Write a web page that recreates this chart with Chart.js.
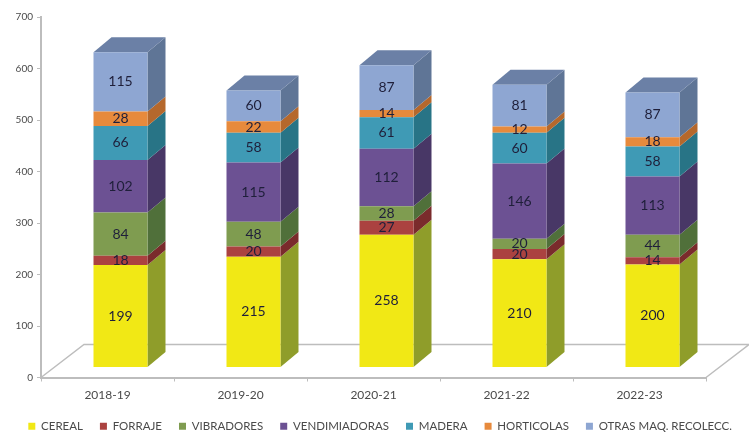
<!DOCTYPE html>
<html>
<head>
<meta charset="utf-8">
<title>Maquinaria</title>
<script src="https://cdn.jsdelivr.net/npm/chart.js@4"></script>
<style>
  html, body { margin: 0; padding: 0; background: #fff; }
  #chart { display: block; filter: blur(0.5px); }
</style>
</head>
<body>
<canvas id="chart" width="749" height="432"></canvas>
<script>
const categories = ['2018-19', '2019-20', '2020-21', '2021-22', '2022-23'];
const cereal = [199, 215, 258, 210, 200];
const forraje = [18, 20, 27, 20, 14];
const vibradores = [84, 48, 28, 20, 44];
const vendimiadoras = [102, 115, 112, 146, 113];
const madera = [66, 58, 61, 60, 58];
const horticolas = [28, 22, 14, 12, 18];
const otras = [115, 60, 87, 81, 87];
const yTicks = [0, 100, 200, 300, 400, 500, 600, 700];

const axisGray = '#bdbdbd';
const textGray = '#4a4a4a';

// front face is pushed into the floor, the side goes further back
const frontShift = { x: 13, y: -10 };
const depth = { x: 18, y: -15 };
const floorDepth = { x: 43, y: -33 };

const series = [
  { label: 'CEREAL', data: cereal, color: '#f1e815', side: '#8f9d2a' },
  { label: 'FORRAJE', data: forraje, color: '#ab4240', side: '#7a2b2c' },
  { label: 'VIBRADORES', data: vibradores, color: '#7f9c50', side: '#50703a' },
  { label: 'VENDIMIADORAS', data: vendimiadoras, color: '#6c5193', side: '#483766' },
  { label: 'MADERA', data: madera, color: '#3f9ab5', side: '#287486' },
  { label: 'HORTICOLAS', data: horticolas, color: '#e78a3c', side: '#b5682c' },
  { label: 'OTRAS MAQ. RECOLECC.', data: otras, color: '#8ea6d2', side: '#5f7596', top: '#6b80a6' }
];

function fillPoly(ctx, pts, color) {
  ctx.fillStyle = color;
  ctx.beginPath();
  pts.forEach((p, i) => i ? ctx.lineTo(p[0], p[1]) : ctx.moveTo(p[0], p[1]));
  ctx.closePath();
  ctx.fill();
}

const bars3d = {
  id: 'bars3d',
  beforeDatasetsDraw(chart) {
    const ctx = chart.ctx;
    const xs = chart.scales.x;
    const y0 = chart.scales.y.getPixelForValue(0);
    // floor outline
    ctx.save();
    ctx.strokeStyle = axisGray;
    ctx.lineWidth = 1.5;
    ctx.beginPath();
    ctx.moveTo(xs.left, y0);
    ctx.lineTo(xs.left + floorDepth.x, y0 + floorDepth.y);
    ctx.lineTo(xs.right + floorDepth.x, y0 + floorDepth.y);
    ctx.lineTo(xs.right, y0);
    ctx.stroke();
    ctx.restore();

    ctx.save();
    ctx.translate(frontShift.x, frontShift.y);
    series.forEach((s, i) => {
      chart.getDatasetMeta(i).data.forEach(bar => {
        const p = bar.getProps(['x', 'y', 'base', 'width'], true);
        const r = p.x + p.width / 2;
        const l = p.x - p.width / 2;
        fillPoly(ctx, [[r, p.y], [r + depth.x, p.y + depth.y], [r + depth.x, p.base + depth.y], [r, p.base]], s.side);
        if (s.top) {
          fillPoly(ctx, [[l, p.y], [l + depth.x, p.y + depth.y], [r + depth.x, p.y + depth.y], [r, p.y]], s.top);
        }
      });
    });
  },
  afterDatasetsDraw(chart) {
    const ctx = chart.ctx;
    ctx.font = '14px Lato';
    ctx.textAlign = 'center';
    ctx.textBaseline = 'middle';
    ctx.fillStyle = '#1f1f3a';
    series.forEach((s, i) => {
      chart.getDatasetMeta(i).data.forEach((bar, j) => {
        const p = bar.getProps(['x', 'y', 'base'], true);
        ctx.fillText(s.data[j], p.x, (p.y + p.base) / 2);
      });
    });
    ctx.restore();
  }
};

new Chart(document.getElementById('chart').getContext('2d'), {
  type: 'bar',
  data: {
    labels: categories,
    datasets: series.map(s => ({
      label: s.label,
      data: s.data,
      backgroundColor: s.color,
      borderWidth: 0,
      clip: false,
      categoryPercentage: 1,
      barPercentage: 0.406
    }))
  },
  options: {
    responsive: false,
    animation: false,
    font: { family: 'Lato' },
    layout: { padding: { top: 17, right: 0, bottom: -10, left: 0 } },
    plugins: {
      tooltip: { enabled: false },
      legend: {
        position: 'bottom',
        align: 'end',
        labels: {
          boxWidth: 7,
          boxHeight: 7,
          padding: 17,
          color: textGray,
          font: { family: 'Lato', size: 11.5 }
        }
      }
    },
    scales: {
      x: {
        stacked: true,
        afterFit(scale) { scale.height = 26; },
        grid: { drawOnChartArea: false, tickLength: 4, tickColor: axisGray },
        border: { color: axisGray, width: 2 },
        ticks: { color: textGray, padding: 6, font: { family: 'Lato', size: 12 }, maxRotation: 0 }
      },
      y: {
        stacked: true,
        min: 0,
        max: 700,
        afterFit(scale) { scale.width = 41; },
        afterBuildTicks(scale) { scale.ticks = yTicks.map(v => ({ value: v })); },
        grid: { drawOnChartArea: false, tickLength: 4, tickColor: axisGray },
        border: { color: axisGray, width: 2 },
        ticks: { color: textGray, padding: 4, font: { family: 'Lato', size: 10 } }
      },
      // empty axis, only reserves the space on the right for the floor
      yRight: {
        position: 'right',
        afterFit(scale) { scale.width = 43; },
        grid: { display: false },
        border: { display: false },
        ticks: { display: false }
      }
    }
  },
  plugins: [bars3d]
});
</script>
</body>
</html>
